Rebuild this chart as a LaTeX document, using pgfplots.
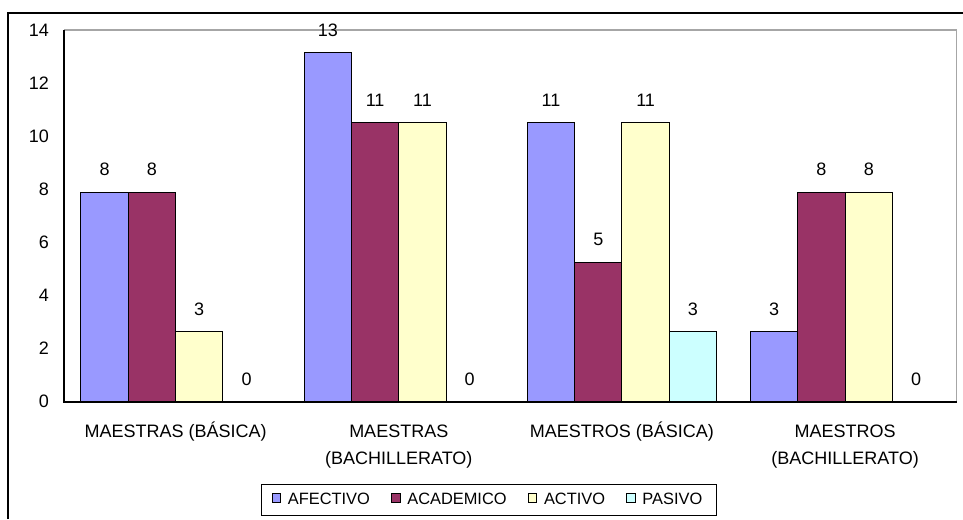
\documentclass[border=0pt]{standalone}
\usepackage{fontspec}
\setmainfont{Liberation Sans}
\usepackage{pgfplots}
\pgfplotsset{compat=1.18}
\definecolor{cAfe}{HTML}{9999FF}
\definecolor{cAca}{HTML}{993366}
\definecolor{cAct}{HTML}{FFFFCC}
\definecolor{cPas}{HTML}{CCFFFF}
\begin{document}
\begin{tikzpicture}[x=1pt,y=1pt]
\useasboundingbox (-32,-58.65) rectangle (449.5,200.85);
\draw[line width=0.8pt] (-27.85,-58.65) -- (-27.85,194.2) -- (449.5,194.2);
\begin{axis}[
  scale only axis, width=446.35pt, height=185.85pt,
  at={(0,0)}, anchor=south west,
  xmin=-0.5, xmax=3.5, ymin=0, ymax=14,
  ytick={0,2,...,14}, xtick={0,1,2,3},
  xticklabels={{\strut MAESTRAS (BÁSICA)},{\strut MAESTRAS\\(BACHILLERATO)},{\strut MAESTROS (BÁSICA)},{\strut MAESTROS\\(BACHILLERATO)}},
  axis line style={draw=none},
  major tick length=0pt, tick style={draw=none},
  /pgf/number format/assume math mode=true,
  yticklabel style={font=\fontsize{9}{10}\selectfont, anchor=east, inner sep=0pt, xshift=-7.3pt},
  xticklabel style={font=\fontsize{9}{13.5}\selectfont, anchor=north, align=center, inner sep=0pt, yshift=-8.2pt},
  ybar, bar width=0.212,
  clip=false,
  nodes near coords={\pgfmathprintnumber[fixed,precision=0]{\pgfplotspointmeta}},
  every node near coord/.append style={font=\fontsize{9}{10}\selectfont, anchor=south, inner sep=0pt, yshift=7.8pt, text=black},
  legend columns=4,
  legend image code/.code={\draw[#1,line width=0.4pt] (0pt,-1.2pt) rectangle (4.3pt,3.2pt);},
  legend style={at={(0.476,-0.2645)}, anchor=center, draw=black, line width=0.5pt,
     font=\fontsize{8.2}{9}\selectfont, inner xsep=5pt, inner ysep=2pt,
     /tikz/every odd column/.append style={column sep=1.5pt},
     /tikz/every even column/.append style={column sep=8.5pt}},
]
\draw[gray!70, line width=0.6pt] (rel axis cs:0,1) -- (rel axis cs:1,1) -- (rel axis cs:1,0);
\addplot[fill=cAfe, draw=black, line width=0.5pt, bar shift=-0.318] coordinates {(0,7.89) (1,13.16) (2,10.53) (3,2.63)};
\addplot[fill=cAca, draw=black, line width=0.5pt, bar shift=-0.106] coordinates {(0,7.89) (1,10.53) (2,5.26) (3,7.89)};
\addplot[fill=cAct, draw=black, line width=0.5pt, bar shift=0.106] coordinates {(0,2.63) (1,10.53) (2,10.53) (3,7.89)};
\addplot[fill=cPas, draw=black, line width=0.5pt, bar shift=0.318] coordinates {(0,0) (1,0) (2,2.63) (3,0)};
\legend{AFECTIVO,ACADEMICO,ACTIVO,PASIVO}
\draw[black, line width=0.9pt] (rel axis cs:0,1) -- (rel axis cs:0,0) -- (rel axis cs:1,0);
\end{axis}
\end{tikzpicture}
\end{document}
